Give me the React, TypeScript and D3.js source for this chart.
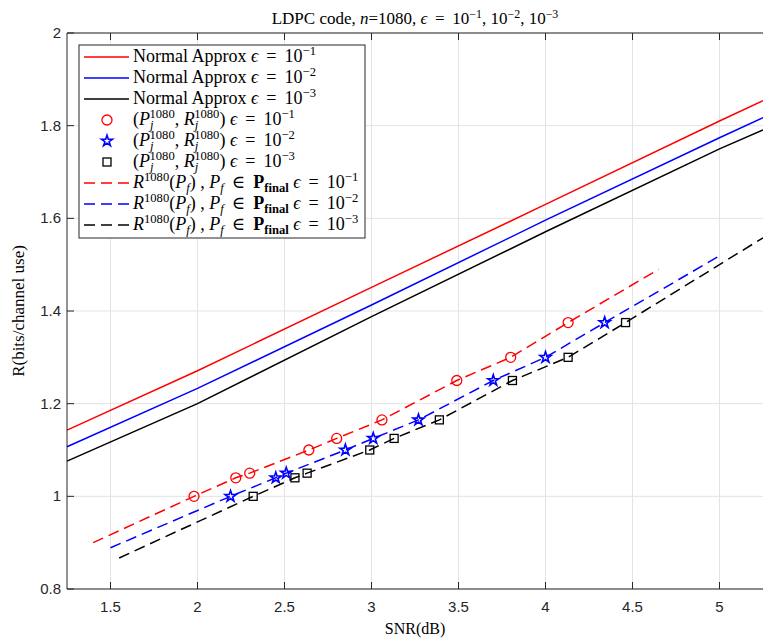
import React from "react";
import * as d3 from "d3";

// ---- data ----
const snrGrid = [1.25, 2, 3, 4, 5, 5.25];
const normalE1 = [1.143, 1.271, 1.451, 1.63, 1.81, 1.854];
const normalE2 = [1.107, 1.233, 1.413, 1.596, 1.774, 1.817];
const normalE3 = [1.076, 1.2, 1.388, 1.571, 1.75, 1.791];

const ptsE1x = [1.98, 2.22, 2.3, 2.64, 2.8, 3.06, 3.49, 3.8, 4.13];
const ptsE1y = [1.0, 1.04, 1.05, 1.1, 1.125, 1.165, 1.25, 1.3, 1.375];
const ptsE2x = [2.19, 2.45, 2.51, 2.85, 3.01, 3.27, 3.7, 4.0, 4.34];
const ptsE2y = [1.0, 1.04, 1.05, 1.1, 1.125, 1.165, 1.25, 1.3, 1.375];
const ptsE3x = [2.32, 2.56, 2.63, 2.99, 3.13, 3.39, 3.81, 4.13, 4.46];
const ptsE3y = [1.0, 1.04, 1.05, 1.1, 1.125, 1.165, 1.25, 1.3, 1.375];

const finE1x = [1.4, 1.98, 2.22, 2.3, 2.64, 2.8, 3.06, 3.49, 3.8, 4.13, 4.65];
const finE1y = [0.9, 1.0, 1.04, 1.05, 1.1, 1.125, 1.165, 1.25, 1.3, 1.375, 1.49];
const finE2x = [1.5, 2.19, 2.45, 2.51, 2.85, 3.01, 3.27, 3.7, 4.0, 4.34, 5.0];
const finE2y = [0.889, 1.0, 1.04, 1.05, 1.1, 1.125, 1.165, 1.25, 1.3, 1.375, 1.519];
const finE3x = [1.55, 2.32, 2.56, 2.63, 2.99, 3.13, 3.39, 3.81, 4.13, 4.46, 5.25];
const finE3y = [0.867, 1.0, 1.04, 1.05, 1.1, 1.125, 1.165, 1.25, 1.3, 1.375, 1.558];

const xTicks = [1.5, 2, 2.5, 3, 3.5, 4, 4.5, 5];
const yTicks = [0.8, 1, 1.2, 1.4, 1.6, 1.8, 2];
const epsLabels = ["\u22121", "\u22122", "\u22123"];

// ---- layout ----
const W = 763, H = 642;
const L = 67, T = 33, R = 764, B = 589;
const AX = "#262626";
const GRID = "#e3e3e3";
const SERIF = "'Liberation Serif', 'DejaVu Serif', serif";
const SANS = "'Liberation Sans', Arial, sans-serif";
const TH = "\u2009";

type Seg = { t: string; i?: boolean; b?: boolean; sh?: number; s?: number; dx?: number };

function Rich({ x, y, segs, size, anchor }: { x: number; y: number; segs: Seg[]; size: number; anchor?: string }) {
  let cur = 0;
  return (
    <text x={x} y={y} fontSize={size} fontFamily={SERIF} textAnchor={anchor || "start"} fill="#000" style={{ whiteSpace: "pre" }}>
      {segs.map((sg, k) => {
        const sh = sg.sh || 0;
        const dy = sh - cur;
        cur = sh;
        return (
          <tspan key={k} dy={dy} dx={sg.dx || 0} fontStyle={sg.i ? "italic" : "normal"} fontWeight={sg.b ? "bold" : "normal"} fontSize={sg.s ? size * sg.s : size}>
            {sg.t}
          </tspan>
        );
      })}
    </text>
  );
}

export default function App() {
  const x = d3.scaleLinear().domain([1.25, 5.25]).range([L, L + 696]);
  const y = d3.scaleLinear().domain([0.8, 2]).range([B, T]);
  const line = d3.line<[number, number]>().x((d) => x(d[0])).y((d) => y(d[1]));
  const zip = (a: number[], b: number[]) => a.map((v, i) => [v, b[i]] as [number, number]);

  const colors = ["#ff0000", "#0000ff", "#000000"];
  const normals = [normalE1, normalE2, normalE3];
  const finX = [finE1x, finE2x, finE3x];
  const finY = [finE1y, finE2y, finE3y];
  const ptX = [ptsE1x, ptsE2x, ptsE3x];
  const ptY = [ptsE1y, ptsE2y, ptsE3y];
  const star = d3.symbol().type(d3.symbolStar).size(38)()!;

  const marker = (k: number, cx: number, cy: number, key: string | number) => {
    if (k === 0) return <circle key={key} cx={cx} cy={cy} r={5} fill="none" stroke={colors[0]} strokeWidth={1.3} />;
    if (k === 1) return <path key={key} d={star} transform={`translate(${cx},${cy})`} fill="none" stroke={colors[1]} strokeWidth={1.6} />;
    return <rect key={key} x={cx - 4} y={cy - 4} width={8} height={8} fill="none" stroke={colors[2]} strokeWidth={1.3} />;
  };

  const fs = 18;
  const sup = (t: string, dx?: number, sh = -7): Seg => ({ t, sh, s: 0.7, dx });
  const sub = (t: string, i = true, b = false): Seg => ({ t, sh: 4, s: 0.7, i, b });
  const epsTail = (k: number): Seg[] => [{ t: " " }, { t: "\u03f5", i: true }, { t: TH + " = " + TH + "10" }, sup(epsLabels[k])];

  const legRows: Seg[][] = [0, 1, 2]
    .map((k) => [{ t: "Normal Approx" } as Seg, ...epsTail(k)])
    .concat(
      [0, 1, 2].map((k) => [
        { t: "(" },
        { t: "P", i: true },
        sub("j"),
        sup("1080", -4),
        { t: ", " },
        { t: "R", i: true },
        sub("j"),
        sup("1080", -4),
        { t: ")" },
        ...epsTail(k),
      ])
    )
    .concat(
      [0, 1, 2].map((k) => [
        { t: "R", i: true },
        sup("1080"),
        { t: "(" },
        { t: "P", i: true },
        sub("f"),
        { t: ") , " },
        { t: "P", i: true },
        sub("f"),
        { t: TH + " \u2208 " + TH },
        { t: "P", b: true },
        sub("final", false, true),
        ...epsTail(k),
      ])
    );

  const legL = 79, legT = 45, legR = 365, legB = 238;
  const rowY0 = 57, rowDy = 21;

  return (
    <svg width={W} height={H} style={{ position: "absolute", left: 0, top: 0, background: "#fff" }}>
      <rect x={0} y={0} width={W} height={H} fill="#fff" />
      {/* grid */}
      {xTicks.map((t) => (
        <line key={"gx" + t} x1={x(t)} x2={x(t)} y1={T} y2={B} stroke={GRID} strokeWidth={1} />
      ))}
      {yTicks.map((t) => (
        <line key={"gy" + t} x1={L} x2={R} y1={y(t)} y2={y(t)} stroke={GRID} strokeWidth={1} />
      ))}
      {/* normal approx lines */}
      {normals.map((n, k) => (
        <path key={"n" + k} d={line(zip(snrGrid, n))!} fill="none" stroke={colors[k]} strokeWidth={1.5} />
      ))}
      {/* final dashed lines */}
      {finX.map((fx, k) => (
        <path key={"f" + k} d={line(zip(fx, finY[k]))!} fill="none" stroke={colors[k]} strokeWidth={1.5} strokeDasharray="11,6" />
      ))}
      {/* markers */}
      {ptX.map((px, k) => px.map((v, i) => marker(k, x(v), y(ptY[k][i]), `m${k}-${i}`)))}
      {/* axes box */}
      <line x1={L} x2={R} y1={T} y2={T} stroke={AX} strokeWidth={1} />
      <line x1={L} x2={R} y1={B} y2={B} stroke={AX} strokeWidth={1} />
      <line x1={L} x2={L} y1={T} y2={B} stroke={AX} strokeWidth={1} />
      {xTicks.map((t) => (
        <g key={"tx" + t}>
          <line x1={x(t)} x2={x(t)} y1={B} y2={B - 7} stroke={AX} />
          <line x1={x(t)} x2={x(t)} y1={T} y2={T + 7} stroke={AX} />
          <text x={x(t)} y={B + 23} textAnchor="middle" fontFamily={SANS} fontSize={15} fill={AX}>
            {d3.format("~g")(t)}
          </text>
        </g>
      ))}
      {yTicks.map((t) => (
        <g key={"ty" + t}>
          <line x1={L} x2={L + 7} y1={y(t)} y2={y(t)} stroke={AX} />
          <text x={L - 6} y={y(t) + 5} textAnchor="end" fontFamily={SANS} fontSize={15} fill={AX}>
            {d3.format("~g")(t)}
          </text>
        </g>
      ))}
      {/* title */}
      <Rich
        x={415}
        y={24}
        size={17}
        anchor="middle"
        segs={[
          { t: "LDPC code, " },
          { t: "n", i: true },
          { t: "=1080, " },
          { t: "\u03f5", i: true },
          { t: TH + " = " + TH + "10" },
          sup("\u22121", 0, -6),
          { t: ", 10" },
          sup("\u22122", 0, -6),
          { t: ", 10" },
          sup("\u22123", 0, -6),
        ]}
      />
      {/* axis labels */}
      <text x={415} y={634} textAnchor="middle" fontFamily={SERIF} fontSize={16} fill="#000">
        SNR(dB)
      </text>
      <text transform={`translate(24,${(T + B) / 2}) rotate(-90)`} textAnchor="middle" fontFamily={SERIF} fontSize={17} fill="#000">
        R(bits/channel use)
      </text>
      {/* legend */}
      <rect x={legL} y={legT} width={legR - legL} height={legB - legT} fill="#fff" stroke={AX} strokeWidth={1} />
      {legRows.map((segs, r) => {
        const cy = rowY0 + r * rowDy;
        const k = r % 3;
        const grp = Math.floor(r / 3);
        return (
          <g key={"leg" + r}>
            {grp === 0 && <line x1={84} x2={129} y1={cy} y2={cy} stroke={colors[k]} strokeWidth={1.5} />}
            {grp === 1 && marker(k, 107, cy, "lm" + r)}
            {grp === 2 && <line x1={84} x2={129} y1={cy} y2={cy} stroke={colors[k]} strokeWidth={1.5} strokeDasharray="11,6" />}
            <Rich x={133} y={cy + 5} size={fs} segs={segs} />
          </g>
        );
      })}
    </svg>
  );
}
